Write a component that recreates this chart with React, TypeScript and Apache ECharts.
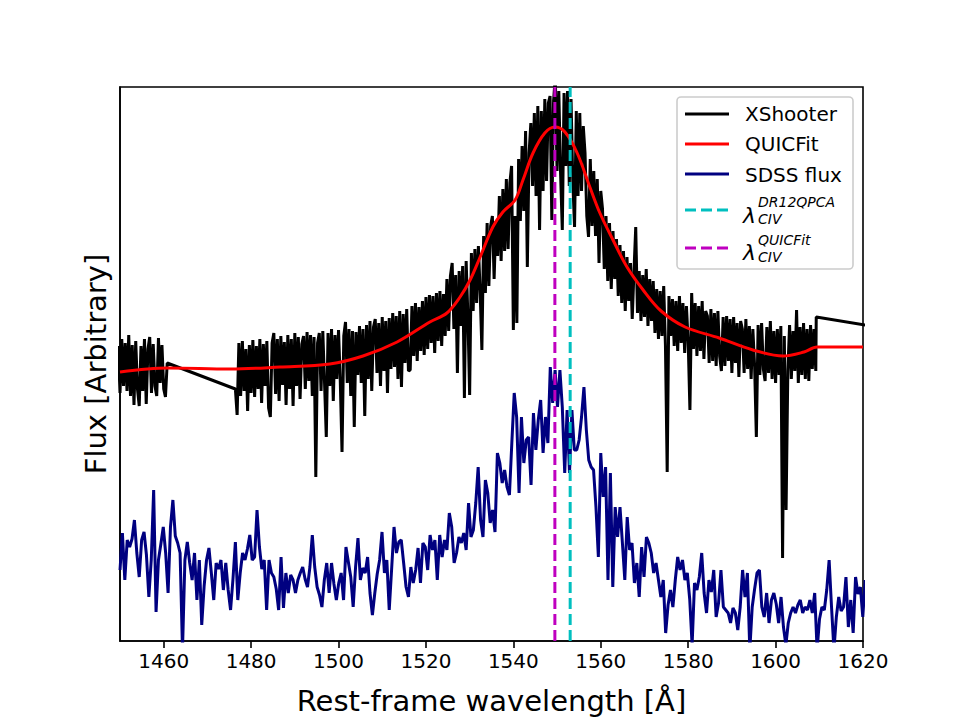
import { useEffect, useRef } from "react";
import * as echarts from "echarts";

// ---- axis ----
const xTicks = [1460, 1480, 1500, 1520, 1540, 1560, 1580, 1600, 1620];

// ---- XShooter spectrum (0.4 Å sampling, two stretches of data) ----
const xsStep = 0.4;
const xsBlueStart = 1449.6;
const xsBlueFlux = [
  2.95, 2.48, 3.02, 2.55, 2.98, 2.5, 3.06, 2.45, 2.96, 2.36,
  3.0, 2.52, 2.35, 2.95, 2.5, 3.02, 2.37, 2.92, 3.04, 2.48,
  2.97, 2.55, 2.45, 3.03, 2.58, 2.96, 2.52, 2.44, 2.78,
];
const xsMainStart = 1476.4;
const xsMainFlux = [
  2.52, 2.26, 2.98, 2.45, 3.0, 2.5, 2.92, 2.3, 2.96, 2.48,
  3.01, 2.44, 2.95, 2.52, 3.02, 2.38, 2.97, 2.55, 3.0, 2.33,
  2.24, 2.98, 3.08, 2.47, 3.02, 2.4, 3.05, 2.56, 2.99, 2.36,
  3.06, 2.52, 3.02, 2.35, 3.08, 2.55, 3.04, 2.42, 2.97, 3.05,
  2.52, 3.09, 2.6, 3.06, 2.45, 3.04, 1.64, 2.98, 3.08, 2.5,
  3.1, 2.58, 2.04, 3.08, 2.55, 3.12, 2.4, 3.06, 2.62, 3.11,
  2.6, 1.89, 3.05, 3.19, 2.58, 3.12, 2.45, 3.1, 2.14, 3.09,
  2.66, 3.15, 2.58, 3.12, 2.25, 3.16, 2.62, 3.2, 2.5, 3.14,
  3.22, 2.68, 3.18, 2.55, 3.24, 2.7, 3.2, 2.48, 3.23, 2.72,
  3.28, 2.74, 3.25, 2.62, 3.3, 2.54, 3.27, 2.78, 3.32, 2.7,
  2.71, 3.35, 2.85, 3.38, 2.8, 3.34, 2.9, 3.4, 2.86, 3.44,
  2.92, 3.46, 2.98, 3.45, 2.88, 3.48, 3.0, 3.5, 2.95, 3.47,
  3.05, 3.62, 3.1, 3.65, 3.78, 3.12, 3.66, 2.68, 3.7, 3.15,
  3.75, 2.43, 3.8, 3.25, 2.46, 3.88, 3.3, 3.92, 3.38, 3.95,
  3.5, 2.91, 4.05, 3.48, 4.18, 3.55, 4.15, 4.25, 3.62, 4.2,
  3.85, 4.45, 3.8, 4.52, 3.9, 4.62, 3.92, 4.58, 4.75, 3.11,
  4.25, 3.18, 4.82, 4.2, 4.95, 4.3, 5.1, 3.74, 4.88, 5.18,
  4.55, 5.28, 4.45, 5.35, 4.11, 5.3, 4.5, 5.42, 4.6, 5.38,
  5.45, 4.21, 5.4, 5.65, 4.7, 5.5, 4.68, 4.11, 5.48, 4.75,
  5.5, 4.55, 5.42, 4.6, 4.14, 5.3, 4.45, 5.28, 4.5, 5.15,
  4.88, 4.25, 4.04, 4.82, 4.15, 4.7, 4.05, 4.62, 3.78, 4.5,
  4.32, 3.72, 4.25, 3.6, 4.18, 3.52, 4.1, 3.62, 4.02, 3.45,
  3.96, 3.38, 3.9, 3.3, 3.84, 3.4, 3.78, 3.22, 3.7, 4.14,
  3.28, 3.7, 3.2, 3.66, 3.24, 3.72, 3.15, 3.62, 3.2, 3.6,
  3.08, 3.52, 3.02, 3.5, 3.05, 3.55, 2.95, 1.69, 3.45, 3.05,
  3.42, 2.95, 3.4, 2.9, 3.45, 2.98, 3.38, 2.88, 3.35, 3.0,
  2.31, 3.48, 2.92, 3.38, 2.85, 3.35, 2.9, 3.4, 2.82, 3.3,
  3.25, 2.78, 3.32, 2.8, 3.28, 2.75, 3.3, 2.85, 2.7, 3.24,
  2.75, 3.25, 2.8, 3.22, 2.68, 3.24, 2.78, 3.18, 2.64, 3.2,
  3.12, 2.68, 3.22, 2.72, 3.15, 2.62, 3.12, 2.75, 2.04, 3.16,
  2.66, 3.18, 2.72, 2.6, 3.14, 2.68, 3.2, 2.62, 3.1, 2.58,
  3.12, 2.66, 3.15, 0.83, 3.05, 1.31, 2.7, 3.16, 2.62, 3.1,
  2.7, 3.31, 2.58, 3.14, 2.66, 3.18, 2.62, 3.12, 2.6, 3.16,
  2.72, 3.12, 2.7,
];
const xsTailWave = [1609.3, 1620.5];
const xsTailFlux = [3.24, 3.16];

// ---- QUICFit model ----
const fitWave = [
  1450, 1461, 1475.2, 1486.6, 1498.0, 1505.6, 1513.4, 1520.9, 1524.8, 1527.8,
  1530.1, 1532.4, 1535.3, 1537.6, 1540.4, 1542.2, 1544.5, 1547.2, 1549.5, 1551.8,
  1554.6, 1557.5, 1559.8, 1562.8, 1566.0, 1569.7, 1573.8, 1579.3, 1587.1, 1594.8,
  1601.7, 1606.5, 1609.5, 1620,
];
const fitFlux = [
  2.69, 2.73, 2.72, 2.74, 2.77, 2.85, 2.99, 3.19, 3.28, 3.44,
  3.61, 3.84, 4.14, 4.29, 4.41, 4.61, 4.88, 5.08, 5.14, 5.09,
  4.88, 4.54, 4.28, 4.01, 3.74, 3.51, 3.3, 3.14, 3.03, 2.91,
  2.85, 2.89, 2.94, 2.94,
];

// ---- SDSS spectrum (0.55 Å sampling) ----
const sdssStart = 1450;
const sdssStep = 0.55;
const sdssFlux = [
  0.71, 1.08, 0.61, 1.01, 0.94, 1.02, 1.21, 0.88, 0.64, 1.01,
  1.09, 0.86, 0.44, 0.81, 1.51, 0.29, 0.81, 0.97, 1.14, 0.88,
  0.48, 1.14, 1.41, 1.05, 0.98, 0.88, -0.09, 0.81, 0.99, 0.78,
  0.61, 0.88, 0.41, 0.81, 0.16, 0.55, 0.81, 0.93, 0.68, 0.41,
  0.78, 0.72, 0.81, 0.51, 0.78, 0.51, 0.31, 0.62, 0.99, 0.41,
  0.68, 0.88, 0.81, 0.92, 1.06, 0.81, 0.84, 1.31, 0.94, 0.72,
  0.81, 0.31, 0.81, 0.68, 0.64, 0.52, 0.31, 0.84, 0.33, 0.68,
  0.48, 0.66, 0.61, 0.48, 0.61, 0.68, 0.74, 0.62, 0.54, 0.74,
  1.06, 0.74, 0.54, 0.46, 0.34, 0.61, 0.78, 0.48, 0.78, 0.57,
  0.41, 0.58, 0.68, 0.41, 0.94, 0.79, 0.64, 0.34, 0.74, 1.03,
  0.61, 0.73, 0.68, 0.84, 0.48, 0.26, 0.48, 0.67, 0.81, 1.09,
  0.68, 0.81, 0.31, 0.72, 1.14, 0.88, 0.99,
  1.01, 0.78, 0.54, 0.44, 0.74, 0.58, 0.71, 0.93, 0.58, 0.98,
  0.94, 0.71, 1.06, 0.91, 1.01, 0.61, 1.06, 0.84, 1.01, 0.91,
  1.28, 1.14, 0.78, 0.88, 1.04, 0.98, 1.08, 0.91, 1.38, 1.04,
  1.11, 1.38, 1.74, 1.21, 1.04, 1.61, 1.48, 1.18, 1.31, 1.09,
  1.88, 1.78, 1.58, 1.71, 1.54, 1.46, 1.98, 2.48, 2.24, 1.48,
  2.24, 1.78, 2.01, 2.04, 1.56, 2.28, 1.91, 2.21, 2.41, 1.88,
  2.24, 1.98, 2.74, 2.38, 2.71, 2.34, 2.71, 2.34, 1.68, 2.31,
  1.68, 2.31, 1.91, 1.91, 2.01, 2.24, 2.54, 2.11, 1.81, 1.74,
  1.71, 1.34, 0.84, 1.88, 1.44, 1.74, 0.61, 1.68, 0.54, 1.34,
  1.04, 1.34, 0.98, 0.61, 1.24, 0.91, 0.98, 0.58, 0.78, 0.44,
  0.94, 0.64, 1.04,
  0.98, 0.88, 0.68, 0.78, 0.61, 0.44, 0.61, 0.08, 0.36, 0.51,
  0.34, 0.61, 0.84, 0.71, 0.81, 0.61, 0.68, 0.42, -0.04, 0.58,
  0.51, 0.64, 0.88, 0.48, 0.28, 0.61, 0.49, 0.71, 0.24, 0.38,
  0.71, 0.34, 0.31, 0.28, 0.18, 0.33, 0.28, 0.11, 0.34, 0.71,
  0.44, 0.68, -0.09, 0.34, 0.52, 0.68, 0.71, 0.34, 0.24, 0.48,
  0.18, 0.41, 0.48, 0.37, 0.18, 0.44, 0.14, -0.04, 0.18, 0.28,
  0.34, 0.28, 0.36, 0.41, 0.28, 0.34, 0.31, 0.41, 0.28, 0.48,
  -0.09, 0.22, 0.34, 0.31, 0.51, 0.81, 0.34, -0.09, 0.24, 0.44,
  0.3, 0.34, 0.64, 0.14, 0.41, 0.08, 0.64, 0.47, 0.54, 0.24,
  0.61,
];

// ---- C IV line centres ----
const civDr12 = 1553.0;
const civQuicfit = 1549.5;
const fluxMin = 0;
const fluxMax = 5.54;

const FONT = '"DejaVu Sans"';

function sampled(start: number, step: number, flux: number[]): number[][] {
  return flux.map((f, i) => [+(start + step * i).toFixed(2), f]);
}
function paired(wave: number[], flux: number[]): number[][] {
  return wave.map((w, i) => [w, flux[i]]);
}

export default function App() {
  const ref = useRef<HTMLDivElement>(null);

  useEffect(() => {
    if (!ref.current) return;
    const chart = echarts.init(ref.current, undefined, { renderer: "svg" });

    const xshooter = [
      ...sampled(xsBlueStart, xsStep, xsBlueFlux),
      ...sampled(xsMainStart, xsStep, xsMainFlux),
      ...paired(xsTailWave, xsTailFlux),
    ];
    const fit = paired(fitWave, fitFlux);
    const sdss = sampled(sdssStart, sdssStep, sdssFlux);

    const lineSeries = (name: string, data: number[][], color: string, extra: any = {}) => ({
      name,
      type: "line",
      data,
      symbol: "none",
      showSymbol: false,
      silent: true,
      clip: true,
      lineStyle: { color, width: 3, ...(extra.lineStyle || {}) },
      itemStyle: { color },
      ...(extra.smooth !== undefined ? { smooth: extra.smooth } : {}),
    });

    const lx1 = 685;
    const lx2 = 729;
    const tx = 745;
    const legendGraphics: any[] = [
      {
        type: "rect",
        z: 100,
        shape: { x: 677, y: 97, width: 176, height: 172, r: 4 },
        style: { fill: "rgba(255,255,255,0.8)", stroke: "#cccccc", lineWidth: 1.6 },
      },
      { type: "line", z: 101, shape: { x1: lx1, y1: 114, x2: lx2, y2: 114 }, style: { stroke: "#000000", lineWidth: 3 } },
      { type: "line", z: 101, shape: { x1: lx1, y1: 144, x2: lx2, y2: 144 }, style: { stroke: "#ff0000", lineWidth: 3 } },
      { type: "line", z: 101, shape: { x1: lx1, y1: 174, x2: lx2, y2: 174 }, style: { stroke: "#000080", lineWidth: 3 } },
      { type: "line", z: 101, shape: { x1: lx1, y1: 210, x2: lx2, y2: 210 }, style: { stroke: "#00bfbf", lineWidth: 3, lineDash: [11, 5] } },
      { type: "line", z: 101, shape: { x1: lx1, y1: 248, x2: lx2, y2: 248 }, style: { stroke: "#bf00bf", lineWidth: 3, lineDash: [11, 5] } },
      { type: "text", z: 101, x: tx, y: 114, style: { text: "XShooter", font: `20px ${FONT}`, fill: "#000", verticalAlign: "middle" } },
      { type: "text", z: 101, x: tx, y: 144, style: { text: "QUICFit", font: `20px ${FONT}`, fill: "#000", verticalAlign: "middle" } },
      { type: "text", z: 101, x: tx, y: 175, style: { text: "SDSS flux", font: `20px ${FONT}`, fill: "#000", verticalAlign: "middle" } },
      { type: "text", z: 101, x: 743, y: 215, style: { text: "λ", font: `italic 22px ${FONT}`, fill: "#000", verticalAlign: "middle" } },
      { type: "text", z: 101, x: 758, y: 202, style: { text: "DR12QPCA", font: `italic 14px ${FONT}`, fill: "#000", verticalAlign: "middle" } },
      { type: "text", z: 101, x: 758, y: 219, style: { text: "CIV", font: `italic 14px ${FONT}`, fill: "#000", verticalAlign: "middle" } },
      { type: "text", z: 101, x: 743, y: 252, style: { text: "λ", font: `italic 22px ${FONT}`, fill: "#000", verticalAlign: "middle" } },
      { type: "text", z: 101, x: 758, y: 240, style: { text: "QUICFit", font: `italic 14px ${FONT}`, fill: "#000", verticalAlign: "middle" } },
      { type: "text", z: 101, x: 758, y: 257, style: { text: "CIV", font: `italic 14px ${FONT}`, fill: "#000", verticalAlign: "middle" } },
    ];

    chart.setOption({
      animation: false,
      backgroundColor: "#ffffff",
      textStyle: { fontFamily: FONT },
      grid: {
        left: 120,
        right: 97,
        top: 87,
        bottom: 79,
        show: true,
        borderColor: "#000",
        borderWidth: 1.6,
        backgroundColor: "transparent",
      },
      xAxis: {
        type: "value",
        min: 1450,
        max: 1620,
        name: "Rest-frame wavelength [Å]",
        nameLocation: "middle",
        nameGap: 45,
        nameTextStyle: { fontSize: 29, color: "#000", fontFamily: FONT },
        axisLine: { show: true, onZero: false, lineStyle: { color: "#000", width: 1.6 } },
        axisTick: { show: true, length: 7, lineStyle: { color: "#000", width: 1.6 }, customValues: xTicks },
        axisLabel: {
          show: true,
          customValues: xTicks,
          formatter: (v: number) => String(v),
          fontSize: 20,
          color: "#000",
          margin: 10,
          fontFamily: FONT,
        },
        splitLine: { show: false },
      },
      yAxis: {
        type: "value",
        min: fluxMin,
        max: fluxMax,
        name: "Flux [Arbitrary]",
        nameLocation: "middle",
        nameGap: 10,
        nameTextStyle: { fontSize: 29, color: "#000", fontFamily: FONT },
        axisLine: { show: true, onZero: false, lineStyle: { color: "#000", width: 1.6 } },
        axisTick: { show: false },
        axisLabel: { show: false },
        splitLine: { show: false },
      },
      series: [
        lineSeries("XShooter", xshooter, "#000000"),
        lineSeries("QUICFit", fit, "#ff0000", { smooth: 0.35 }),
        lineSeries("SDSS flux", sdss, "#000080"),
        lineSeries("λ DR12QPCA", [[civDr12, fluxMin], [civDr12, fluxMax]], "#00bfbf", { lineStyle: { type: [11, 5] } }),
        lineSeries("λ QUICFit", [[civQuicfit, fluxMin], [civQuicfit, fluxMax]], "#bf00bf", { lineStyle: { type: [11, 5] } }),
      ],
      graphic: legendGraphics,
    });

    return () => chart.dispose();
  }, []);

  return (
    <div
      ref={ref}
      style={{ position: "absolute", left: 0, top: 0, width: 960, height: 720, background: "#fff" }}
    />
  );
}
